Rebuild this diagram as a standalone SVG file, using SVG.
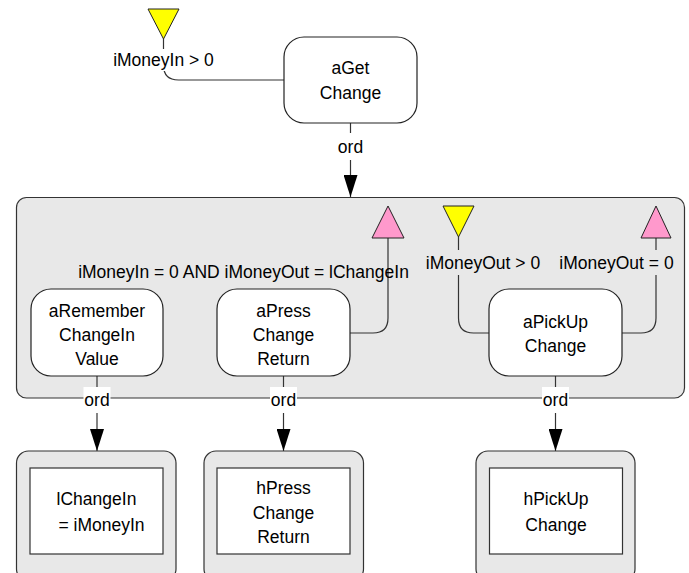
<svg xmlns="http://www.w3.org/2000/svg" width="689" height="573" viewBox="0 0 689 573">
<defs>
<style>
.t{font-family:"Liberation Sans",Arial,sans-serif;font-size:17.5px;fill:#000;text-anchor:middle}
.node{fill:#fff;stroke:#222;stroke-width:1.2}
.cont{fill:#e8e8e8;stroke:#333;stroke-width:1.2}
.inner{fill:#fff;stroke:#333;stroke-width:1.2}
.ln{fill:none;stroke:#333;stroke-width:1.2}
.yel{fill:#ffff00;stroke:#222;stroke-width:1}
.pink{fill:#ff99cc;stroke:#222;stroke-width:1}
</style>
<marker id="arr" markerUnits="userSpaceOnUse" markerWidth="22" markerHeight="14" viewBox="0 0 22 14" refX="22" refY="7" orient="auto">
<path d="M0,0 L22,7 L0,14 z" fill="#000"/>
</marker>
</defs>
<rect width="689" height="573" fill="#fff"/>

<g id="container">
<rect class="cont" x="16.5" y="197.5" width="668" height="200.5" rx="10"/>
</g>

<g id="connectors">
<!-- top trigger into aGetChange -->
<path class="ln" d="M163.5,39 V65 Q163.5,80 178.5,80 H284"/>
<rect x="112" y="49" width="103" height="22" fill="#fff"/>
<text class="t" x="163.5" y="66">iMoneyIn &gt; 0</text>
<!-- aGetChange to container -->
<path class="ln" d="M350.5,123 V197" marker-end="url(#arr)"/>
<rect x="337" y="133" width="27" height="27" fill="#fff"/>
<text class="t" x="350.5" y="153">ord</text>
<!-- aPressChangeReturn to pink trigger -->
<path class="ln" d="M350,333 H373 Q388,333 388,318 V238"/>
<text class="t" x="243.5" y="278">iMoneyIn = 0 AND iMoneyOut = lChangeIn</text>
<!-- yellow trigger to aPickUpChange -->
<path class="ln" d="M458.5,237 V318 Q458.5,333 473.5,333 H489"/>
<rect x="425" y="250" width="117" height="25" fill="#e8e8e8"/>
<text class="t" x="483" y="269">iMoneyOut &gt; 0</text>
<!-- aPickUpChange to pink trigger -->
<path class="ln" d="M622,333 H641 Q656,333 656,318 V238"/>
<rect x="558" y="250" width="117" height="25" fill="#e8e8e8"/>
<text class="t" x="616.5" y="269">iMoneyOut = 0</text>
<!-- ord connectors to bottom nodes -->
<path class="ln" d="M97,376 V451" marker-end="url(#arr)"/>
<rect x="83.5" y="387" width="27" height="26" fill="#fff"/>
<text class="t" x="97" y="406">ord</text>
<path class="ln" d="M283.5,376 V451" marker-end="url(#arr)"/>
<rect x="270" y="387" width="27" height="26" fill="#fff"/>
<text class="t" x="283.5" y="406">ord</text>
<path class="ln" d="M555.5,376 V451" marker-end="url(#arr)"/>
<rect x="542" y="387" width="27" height="26" fill="#fff"/>
<text class="t" x="555.5" y="406">ord</text>
</g>

<g id="trigger-in-top">
<polygon class="yel" points="148,9 179,9 163.5,39"/>
</g>
<g id="trigger-in-pickup">
<polygon class="yel" points="443,206 474,206 458.5,237"/>
</g>
<g id="trigger-out-press">
<polygon class="pink" points="372,238 404,238 388,206"/>
</g>
<g id="trigger-out-pickup">
<polygon class="pink" points="641,238 671,238 656,206"/>
</g>

<g id="aGetChange">
<rect class="node" x="284" y="37" width="133" height="86" rx="20"/>
<text class="t" x="350.5" y="74">aGet</text>
<text class="t" x="350.5" y="99">Change</text>
</g>

<g id="aRememberChangeInValue">
<rect class="node" x="31" y="289" width="132" height="87" rx="20"/>
<text class="t" x="97" y="316.5">aRemember</text>
<text class="t" x="97" y="341">ChangeIn</text>
<text class="t" x="97" y="365">Value</text>
</g>

<g id="aPressChangeReturn">
<rect class="node" x="217" y="289" width="133" height="87" rx="20"/>
<text class="t" x="283.5" y="316.5">aPress</text>
<text class="t" x="283.5" y="341">Change</text>
<text class="t" x="283.5" y="365">Return</text>
</g>

<g id="aPickUpChange">
<rect class="node" x="489" y="289" width="133" height="87" rx="20"/>
<text class="t" x="555.5" y="328">aPickUp</text>
<text class="t" x="555.5" y="352">Change</text>
</g>

<g id="lChangeIn">
<rect class="cont" x="16.5" y="451" width="159.5" height="130" rx="12"/>
<rect class="inner" x="30" y="468" width="133" height="86"/>
<text class="t" x="96.5" y="505">lChangeIn</text>
<text class="t" x="101.5" y="530.5">= iMoneyIn</text>
</g>

<g id="hPressChangeReturn">
<rect class="cont" x="204" y="451" width="159.5" height="130" rx="12"/>
<rect class="inner" x="217" y="468" width="133" height="86"/>
<text class="t" x="283.5" y="494">hPress</text>
<text class="t" x="283.5" y="518.5">Change</text>
<text class="t" x="283.5" y="543">Return</text>
</g>

<g id="hPickUpChange">
<rect class="cont" x="476" y="451" width="159" height="130" rx="12"/>
<rect class="inner" x="489.5" y="468" width="133" height="86"/>
<text class="t" x="556" y="505">hPickUp</text>
<text class="t" x="556" y="530.5">Change</text>
</g>
</svg>
